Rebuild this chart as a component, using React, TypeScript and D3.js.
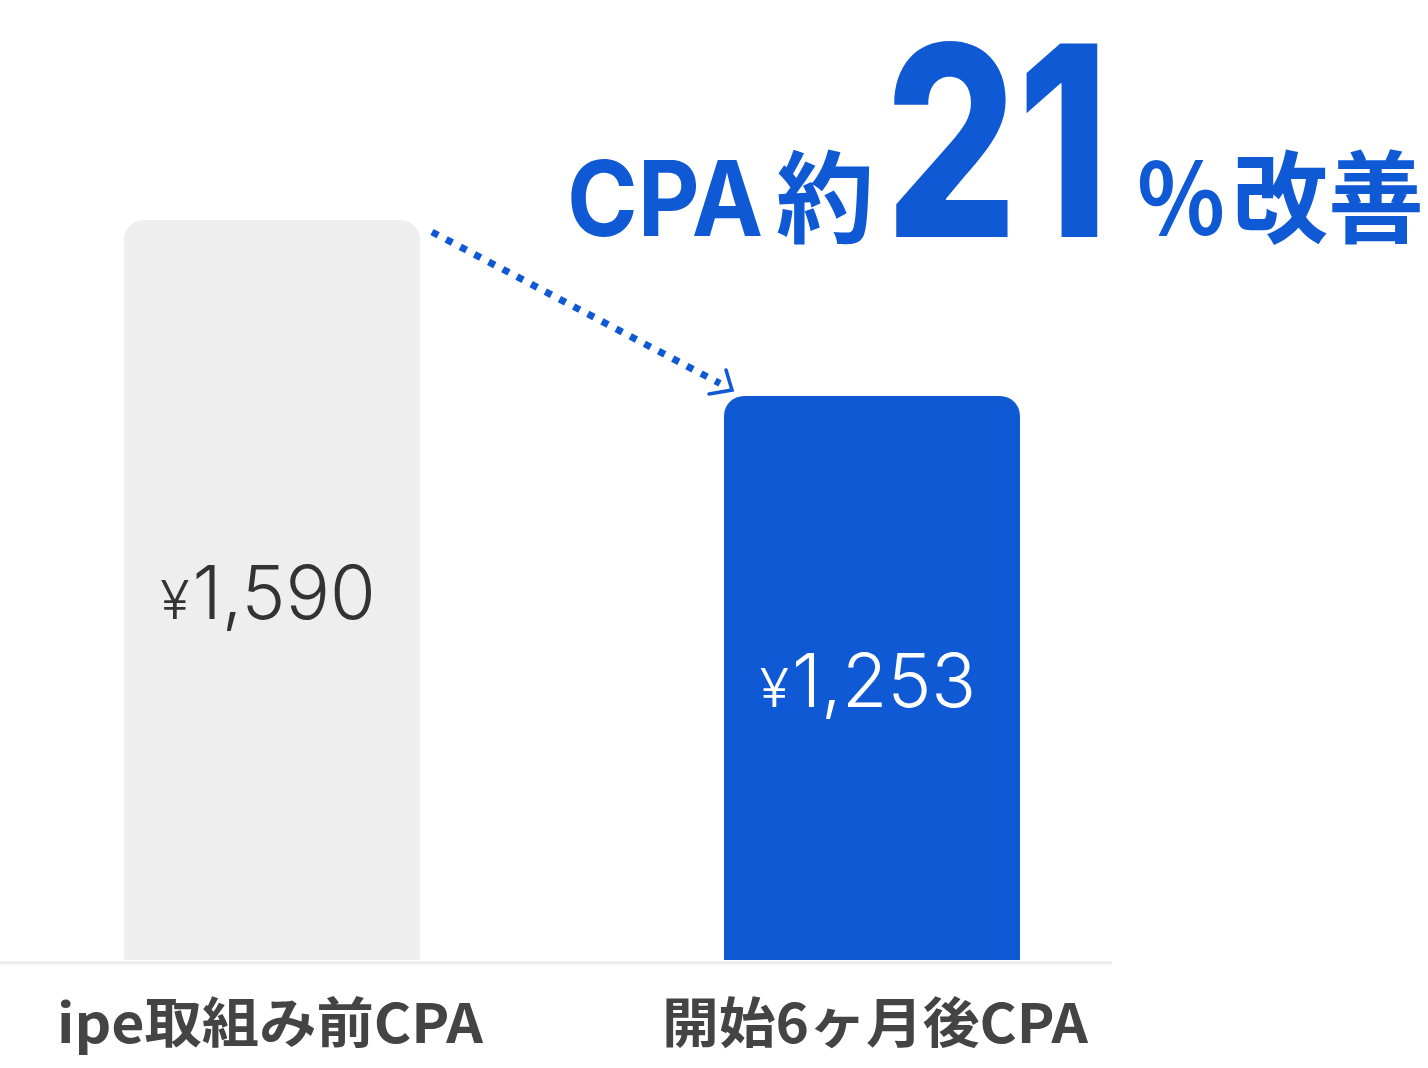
import { useEffect, useRef } from 'react';
import * as d3 from 'd3';

const WIDTH = 1428;
const HEIGHT = 1068;

const categories = ['ipe取組み前CPA', '開始6ヶ月後CPA'];
const cpaValues = [1590, 1253];
const valuePrefix = '¥';
const barColors = ['#eeeeee', '#1059d5'];
const valueColors = ['#333333', '#ffffff'];

// headline pieces, drawn left to right
const headlineParts = ['CPA', '約', '21', '%', '改善'];

const BLUE = '#1059d5';
const BASELINE_Y = 960;
const AXIS_FLOOR = 173; // axis does not start at zero in the original

function topRoundedBar(x: number, y: number, w: number, h: number, r: number) {
  const p = d3.path();
  p.moveTo(x, y + h);
  p.lineTo(x, y + r);
  p.arcTo(x, y, x + r, y, r);
  p.lineTo(x + w - r, y);
  p.arcTo(x + w, y, x + w, y + r, r);
  p.lineTo(x + w, y + h);
  p.closePath();
  return p.toString();
}

export default function App() {
  const svgRef = useRef<SVGSVGElement>(null);

  useEffect(() => {
    if (!svgRef.current) return;
    const svg = d3.select(svgRef.current);
    svg.selectAll('*').remove();

    const x = d3.scaleBand<string>()
      .domain(categories)
      .range([0, 1144])
      .paddingInner(0.5067)
      .paddingOuter(0.2067);

    const y = d3.scaleLinear()
      .domain([AXIS_FLOOR, d3.max(cpaValues)!])
      .range([BASELINE_Y, 220]);

    const bw = x.bandwidth();

    // baseline
    svg.append('rect')
      .attr('x', 0)
      .attr('y', BASELINE_Y + 1)
      .attr('width', 1112)
      .attr('height', 3.5)
      .attr('fill', '#eeeeee');

    // bars
    categories.forEach((c, i) => {
      const top = y(cpaValues[i]);
      svg.append('path')
        .attr('d', topRoundedBar(x(c)!, top, bw, BASELINE_Y - top, 20))
        .attr('fill', barColors[i]);

      const mid = (top + BASELINE_Y) / 2;
      const t = svg.append('text')
        .attr('x', x(c)! + bw / 2 - 4)
        .attr('y', mid + 29)
        .attr('text-anchor', 'middle')
        .attr('font-family', 'Inter, "Noto Sans", sans-serif')
        .attr('font-weight', 300)
        .attr('fill', valueColors[i]);
      t.append('tspan')
        .attr('font-size', 54)
        .text(valuePrefix);
      t.append('tspan')
        .attr('font-size', 74)
        .attr('dx', 3)
        .text(d3.format(',')(cpaValues[i]));

      // category label
      svg.append('text')
        .attr('x', x(c)! + bw / 2 + (i === 0 ? -2 : 3))
        .attr('y', 1043)
        .attr('text-anchor', 'middle')
        .attr('font-family', '"Noto Sans CJK JP", sans-serif')
        .attr('font-weight', 700)
        .attr('font-size', 54)
        .attr('fill', '#444444')
        .attr('textLength', 426)
        .attr('lengthAdjust', 'spacingAndGlyphs')
        .text(c);
    });

    // dotted arrow between bar tops
    const x0 = x(categories[0])! + bw + 12;
    const y0 = y(cpaValues[0]) + 12;
    const x1 = x(categories[1])! + 8;
    const y1 = y(cpaValues[1]) - 6;
    svg.append('line')
      .attr('x1', x0)
      .attr('y1', y0)
      .attr('x2', x1 - 12)
      .attr('y2', y1 - 6.5)
      .attr('stroke', BLUE)
      .attr('stroke-width', 7)
      .attr('stroke-dasharray', '7 9');
    svg.append('path')
      .attr('d', `M${x1 - 6},${y1 - 20} L${x1},${y1} L${x1 - 23},${y1 + 4}`)
      .attr('fill', 'none')
      .attr('stroke', BLUE)
      .attr('stroke-width', 3.5)
      .attr('stroke-linecap', 'round');

    // headline
    const head = svg.append('g').attr('fill', BLUE);
    const latin = 'Inter, "Noto Sans", sans-serif';
    const cjk = '"Noto Sans CJK JP", sans-serif';
    const specs = [
      { x: 567, y: 236, size: 104, w: 196, font: latin, weight: 700 },
      { x: 776, y: 235, size: 100, w: 98, font: cjk, weight: 700 },
      { x: 885, y: 237, size: 266, w: 224, font: latin, weight: 800 },
      { x: 1137, y: 235, size: 100, w: 88, font: cjk, weight: 700 },
      { x: 1232, y: 235, size: 100, w: 192, font: cjk, weight: 700 },
    ];
    headlineParts.forEach((txt, i) => {
      const s = specs[i];
      head.append('text')
        .attr('x', s.x)
        .attr('y', s.y)
        .attr('font-family', s.font)
        .attr('font-weight', s.weight)
        .attr('font-size', s.size)
        .attr('textLength', s.w)
        .attr('lengthAdjust', 'spacingAndGlyphs')
        .text(txt);
    });
  }, []);

  return (
    <div style={{ position: 'absolute', left: 0, top: 0 }}>
      <svg ref={svgRef} width={WIDTH} height={HEIGHT} viewBox={`0 0 ${WIDTH} ${HEIGHT}`} />
    </div>
  );
}
